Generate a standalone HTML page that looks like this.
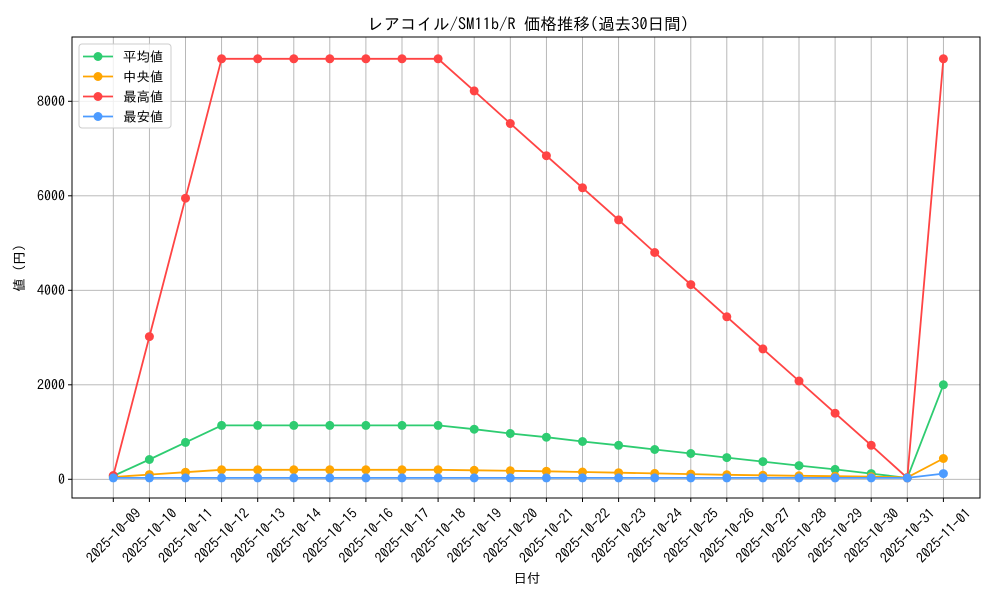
<!DOCTYPE html>
<html><head><meta charset="utf-8"><style>
body{margin:0;background:#fff}
svg{display:block;font-family:"IPAGothic","Noto Sans CJK JP","Liberation Sans",sans-serif}
</style></head><body>
<svg width="1000" height="600" viewBox="0 0 1000 600">
<rect width="1000" height="600" fill="#fff"/>
<text x="528" y="30" font-size="16.5" text-anchor="middle">レアコイル/SM11b/R 価格推移(過去30日間)</text>
<g stroke="#b0b0b0" stroke-width="0.9">
<line x1="113.3" y1="37" x2="113.3" y2="498"/><line x1="149.4" y1="37" x2="149.4" y2="498"/><line x1="185.5" y1="37" x2="185.5" y2="498"/><line x1="221.6" y1="37" x2="221.6" y2="498"/><line x1="257.7" y1="37" x2="257.7" y2="498"/><line x1="293.8" y1="37" x2="293.8" y2="498"/><line x1="329.8" y1="37" x2="329.8" y2="498"/><line x1="365.9" y1="37" x2="365.9" y2="498"/><line x1="402" y1="37" x2="402" y2="498"/><line x1="438.1" y1="37" x2="438.1" y2="498"/><line x1="474.2" y1="37" x2="474.2" y2="498"/><line x1="510.3" y1="37" x2="510.3" y2="498"/><line x1="546.4" y1="37" x2="546.4" y2="498"/><line x1="582.5" y1="37" x2="582.5" y2="498"/><line x1="618.6" y1="37" x2="618.6" y2="498"/><line x1="654.7" y1="37" x2="654.7" y2="498"/><line x1="690.8" y1="37" x2="690.8" y2="498"/><line x1="726.8" y1="37" x2="726.8" y2="498"/><line x1="762.9" y1="37" x2="762.9" y2="498"/><line x1="799" y1="37" x2="799" y2="498"/><line x1="835.1" y1="37" x2="835.1" y2="498"/><line x1="871.2" y1="37" x2="871.2" y2="498"/><line x1="907.3" y1="37" x2="907.3" y2="498"/><line x1="943.4" y1="37" x2="943.4" y2="498"/>
<line x1="72" y1="479.3" x2="980" y2="479.3"/><line x1="72" y1="384.8" x2="980" y2="384.8"/><line x1="72" y1="290.3" x2="980" y2="290.3"/><line x1="72" y1="195.8" x2="980" y2="195.8"/><line x1="72" y1="101.3" x2="980" y2="101.3"/>
</g>
<g stroke="#000" stroke-width="1">
<line x1="68" y1="479.3" x2="72" y2="479.3"/><line x1="68" y1="384.8" x2="72" y2="384.8"/><line x1="68" y1="290.3" x2="72" y2="290.3"/><line x1="68" y1="195.8" x2="72" y2="195.8"/><line x1="68" y1="101.3" x2="72" y2="101.3"/>
</g>
<g font-size="14" text-anchor="end">
<text x="65" y="484">0</text><text x="65" y="389.5">2000</text><text x="65" y="295">4000</text><text x="65" y="200.5">6000</text><text x="65" y="106">8000</text>
</g>
<text transform="translate(24,268) rotate(-90)" font-size="13.5" text-anchor="middle">値 (円)</text>
<text x="527" y="583" font-size="13.5" text-anchor="middle">日付</text>
<g stroke="#000"><line x1="113.3" y1="498" x2="113.3" y2="502"/><line x1="149.4" y1="498" x2="149.4" y2="502"/><line x1="185.5" y1="498" x2="185.5" y2="502"/><line x1="221.6" y1="498" x2="221.6" y2="502"/><line x1="257.7" y1="498" x2="257.7" y2="502"/><line x1="293.8" y1="498" x2="293.8" y2="502"/><line x1="329.8" y1="498" x2="329.8" y2="502"/><line x1="365.9" y1="498" x2="365.9" y2="502"/><line x1="402" y1="498" x2="402" y2="502"/><line x1="438.1" y1="498" x2="438.1" y2="502"/><line x1="474.2" y1="498" x2="474.2" y2="502"/><line x1="510.3" y1="498" x2="510.3" y2="502"/><line x1="546.4" y1="498" x2="546.4" y2="502"/><line x1="582.5" y1="498" x2="582.5" y2="502"/><line x1="618.6" y1="498" x2="618.6" y2="502"/><line x1="654.7" y1="498" x2="654.7" y2="502"/><line x1="690.8" y1="498" x2="690.8" y2="502"/><line x1="726.8" y1="498" x2="726.8" y2="502"/><line x1="762.9" y1="498" x2="762.9" y2="502"/><line x1="799" y1="498" x2="799" y2="502"/><line x1="835.1" y1="498" x2="835.1" y2="502"/><line x1="871.2" y1="498" x2="871.2" y2="502"/><line x1="907.3" y1="498" x2="907.3" y2="502"/><line x1="943.4" y1="498" x2="943.4" y2="502"/></g>
<g font-size="14" text-anchor="middle">
<text transform="translate(117,539) rotate(-45)">2025-10-09</text>
<text transform="translate(153.1,539) rotate(-45)">2025-10-10</text>
<text transform="translate(189.2,539) rotate(-45)">2025-10-11</text>
<text transform="translate(225.3,539) rotate(-45)">2025-10-12</text>
<text transform="translate(261.4,539) rotate(-45)">2025-10-13</text>
<text transform="translate(297.5,539) rotate(-45)">2025-10-14</text>
<text transform="translate(333.5,539) rotate(-45)">2025-10-15</text>
<text transform="translate(369.6,539) rotate(-45)">2025-10-16</text>
<text transform="translate(405.7,539) rotate(-45)">2025-10-17</text>
<text transform="translate(441.8,539) rotate(-45)">2025-10-18</text>
<text transform="translate(477.9,539) rotate(-45)">2025-10-19</text>
<text transform="translate(514,539) rotate(-45)">2025-10-20</text>
<text transform="translate(550.1,539) rotate(-45)">2025-10-21</text>
<text transform="translate(586.2,539) rotate(-45)">2025-10-22</text>
<text transform="translate(622.3,539) rotate(-45)">2025-10-23</text>
<text transform="translate(658.4,539) rotate(-45)">2025-10-24</text>
<text transform="translate(694.5,539) rotate(-45)">2025-10-25</text>
<text transform="translate(730.5,539) rotate(-45)">2025-10-26</text>
<text transform="translate(766.6,539) rotate(-45)">2025-10-27</text>
<text transform="translate(802.7,539) rotate(-45)">2025-10-28</text>
<text transform="translate(838.8,539) rotate(-45)">2025-10-29</text>
<text transform="translate(874.9,539) rotate(-45)">2025-10-30</text>
<text transform="translate(911,539) rotate(-45)">2025-10-31</text>
<text transform="translate(947.1,539) rotate(-45)">2025-11-01</text>
</g>
<defs>
<marker id="mg" markerWidth="10" markerHeight="10" refX="5" refY="5" markerUnits="userSpaceOnUse"><circle cx="5" cy="5" r="4.5" fill="#2ecc71"/></marker>
<marker id="mo" markerWidth="10" markerHeight="10" refX="5" refY="5" markerUnits="userSpaceOnUse"><circle cx="5" cy="5" r="4.5" fill="#ffa500"/></marker>
<marker id="mr" markerWidth="10" markerHeight="10" refX="5" refY="5" markerUnits="userSpaceOnUse"><circle cx="5" cy="5" r="4.5" fill="#ff4444"/></marker>
<marker id="mb" markerWidth="10" markerHeight="10" refX="5" refY="5" markerUnits="userSpaceOnUse"><circle cx="5" cy="5" r="4.5" fill="#4c9bff"/></marker>
</defs>
<g fill="none" stroke-width="1.8" stroke-linejoin="round">
<polyline stroke="#2ecc71" marker-start="url(#mg)" marker-mid="url(#mg)" marker-end="url(#mg)" points="113.3,476 149.4,459.5 185.5,442.4 221.6,425.4 257.7,425.4 293.8,425.4 329.8,425.4 365.9,425.4 402,425.4 438.1,425.4 474.2,429.2 510.3,433.5 546.4,437.2 582.5,441.5 618.6,445.3 654.7,449.5 690.8,453.5 726.8,457.6 762.9,461.6 799,465.6 835.1,469.4 871.2,473.6 907.3,477.9 943.4,384.8"/>
<polyline stroke="#ffa500" marker-start="url(#mo)" marker-mid="url(#mo)" marker-end="url(#mo)" points="113.3,477 149.4,474.6 185.5,472.2 221.6,469.8 257.7,469.8 293.8,469.8 329.8,469.8 365.9,469.8 402,469.8 438.1,469.8 474.2,470.3 510.3,470.8 546.4,471.3 582.5,472 618.6,472.7 654.7,473.4 690.8,474.1 726.8,474.8 762.9,475.3 799,475.8 835.1,476.2 871.2,476.7 907.3,477.4 943.4,458.5"/>
<polyline stroke="#ff4444" marker-start="url(#mr)" marker-mid="url(#mr)" marker-end="url(#mr)" points="113.3,475.5 149.4,336.6 185.5,198.2 221.6,58.8 257.7,58.8 293.8,58.8 329.8,58.8 365.9,58.8 402,58.8 438.1,58.8 474.2,90.9 510.3,123.5 546.4,155.7 582.5,187.8 618.6,219.9 654.7,252.5 690.8,284.6 726.8,316.8 762.9,348.9 799,381 835.1,413.2 871.2,445.3 907.3,477.9 943.4,58.8"/>
<polyline stroke="#4c9bff" marker-start="url(#mb)" marker-mid="url(#mb)" marker-end="url(#mb)" points="113.3,477.9 149.4,477.9 185.5,477.9 221.6,477.9 257.7,477.9 293.8,477.9 329.8,477.9 365.9,477.9 402,477.9 438.1,477.9 474.2,477.9 510.3,477.9 546.4,477.9 582.5,477.9 618.6,477.9 654.7,477.9 690.8,477.9 726.8,477.9 762.9,477.9 799,477.9 835.1,477.9 871.2,477.9 907.3,477.9 943.4,473.6"/>
</g>
<rect x="72" y="37" width="908" height="461" fill="none" stroke="#000" stroke-width="1"/>
<rect x="79" y="44" width="92" height="84" rx="3" fill="#fff" fill-opacity="0.8" stroke="#ccc"/>
<g stroke-width="1.8">
<line x1="83" y1="56.5" x2="113" y2="56.5" stroke="#2ecc71"/><circle cx="98" cy="56.5" r="4.5" fill="#2ecc71"/>
<line x1="83" y1="76.5" x2="113" y2="76.5" stroke="#ffa500"/><circle cx="98" cy="76.5" r="4.5" fill="#ffa500"/>
<line x1="83" y1="96.5" x2="113" y2="96.5" stroke="#ff4444"/><circle cx="98" cy="96.5" r="4.5" fill="#ff4444"/>
<line x1="83" y1="116.5" x2="113" y2="116.5" stroke="#4c9bff"/><circle cx="98" cy="116.5" r="4.5" fill="#4c9bff"/>
</g>
<g font-size="13.5">
<text x="123" y="61.5">平均値</text><text x="123" y="81.5">中央値</text><text x="123" y="101.5">最高値</text><text x="123" y="121.5">最安値</text>
</g>
</svg>
</body></html>
